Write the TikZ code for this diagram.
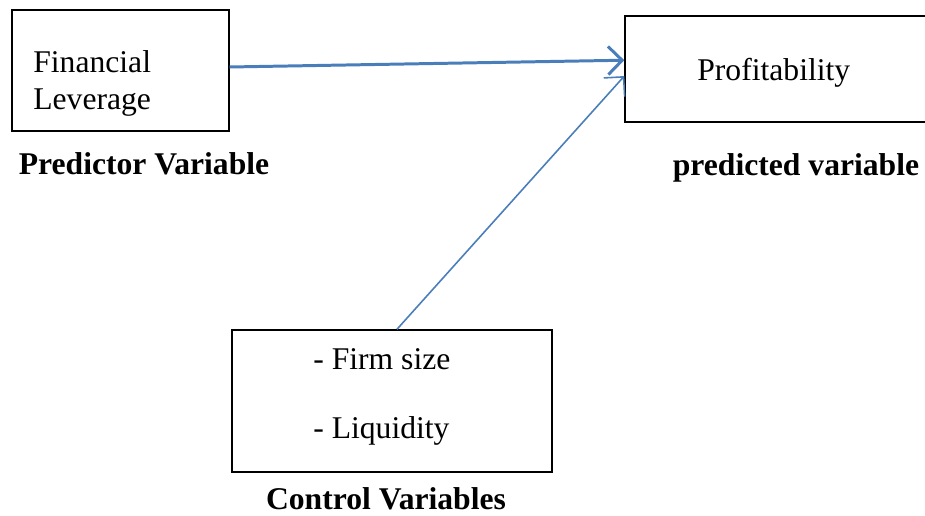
\documentclass[tikz,border=0pt]{standalone}
\usepackage{fontspec}
\setmainfont{Liberation Serif}
\usepackage{xcolor}
\usepackage{tikz}
\usetikzlibrary{arrows.meta}
\definecolor{linkblue}{HTML}{4A7EBB}

\begin{document}
\begin{tikzpicture}[x=0.02cm, y=-0.02cm, font=\fontsize{18}{22}\selectfont,
    box/.style={draw, line width=0.8pt, inner sep=0pt},
    caption/.style={font=\fontsize{18}{22}\selectfont\bfseries, anchor=base, inner sep=0pt},
    entry/.style={anchor=base west, inner sep=0pt},
    link/.style={draw=linkblue, -{Straight Barb[length=8pt, width=16pt]}}]
    \clip (0, 0) rectangle (925, 515);
    \node[box, minimum width=4.34cm, minimum height=2.42cm] at (120.5, 70.5) (fin) {};
    \node[box, minimum width=6.5cm, minimum height=2.12cm] at (787.5, 69) (prof) {};
    \node[box, minimum width=6.4cm, minimum height=2.84cm] at (392, 401) (ctrl) {};
    \node[entry] at (33, 72) (fin1) {Financial};
    \node[entry] at (33, 109) (fin2) {Leverage};
    \node[entry] at (697, 80) (proftext) {Profitability};
    \node[entry] at (313, 369) (size) {- Firm size};
    \node[entry] at (313, 438) (liq) {- Liquidity};
    \node[caption] at (144, 174) (predictor) {Predictor Variable};
    \node[caption] at (796, 175) (predicted) {predicted variable};
    \node[caption] at (386, 509) (control) {Control Variables};
    \draw[link, line width=1.7pt] ([yshift=2pt]fin.east) -- ([yshift=5pt]prof.west);
    \draw[link, line width=0.9pt] ([xshift=2.8pt]ctrl.north) -- ([yshift=-4pt]prof.west);
\end{tikzpicture}
\end{document}
